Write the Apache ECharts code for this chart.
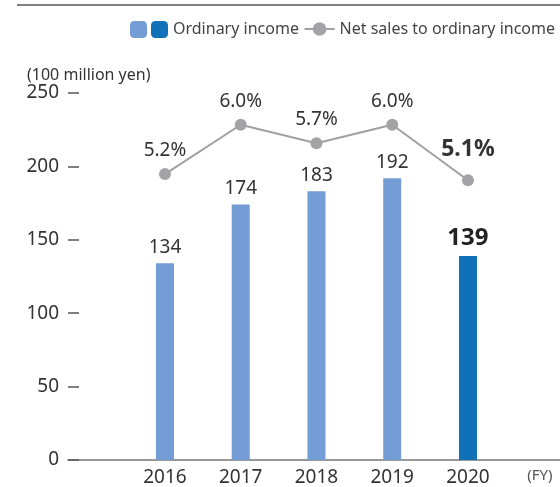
<!DOCTYPE html>
<html>
<head>
<meta charset="utf-8">
<script src="https://cdn.jsdelivr.net/npm/echarts@6/dist/echarts.min.js"></script>
<style>html,body{margin:0;padding:0;background:#fff}#c{width:560px;height:487px}</style>
</head>
<body>
<div id="c"></div>
<script>
const years = [2016, 2017, 2018, 2019, 2020];
const ordinaryIncome = [134, 174, 183, 192, 139];
const ratio = [5.2, 6.0, 5.7, 6.0, 5.1];
const yTicks = [0, 50, 100, 150, 200, 250];
const highlightIndex = 4;

const FONT = '"Noto Sans", sans-serif';
const lightData = years.map((y, i) => [y, i === highlightIndex ? null : ordinaryIncome[i]]);
const darkData = years.map((y, i) => [y, i === highlightIndex ? ordinaryIncome[i] : null]);
const ratioData = years.map((y, i) => ({
  value: [y, ratio[i]],
  label: i === highlightIndex ? {fontWeight: 'bold', fontSize: 23, distance: 13} : {}
}));

const chart = echarts.init(document.getElementById('c'), null, {renderer: 'canvas'});
chart.setOption({
  animation: false,
  textStyle: {fontFamily: FONT},
  grid: {left: 68, right: 0, top: 93, bottom: 24},
  title: {
    text: '(100 million yen)', left: 22, top: 62,
    textStyle: {fontSize: 16, fontWeight: 'normal', color: '#333', fontFamily: FONT}
  },
  graphic: [{
    type: 'line', shape: {x1: 17, y1: 5, x2: 560, y2: 5},
    style: {stroke: '#555', lineWidth: 1.5}
  }],
  legend: [
    {
      data: ['Ordinary income (2016-2019)'], left: 125, top: 16,
      itemWidth: 17, itemHeight: 17, formatter: () => '',
      selectedMode: false
    },
    {
      data: ['Ordinary income'], left: 146, top: 16,
      itemWidth: 17, itemHeight: 17, itemGap: 6,
      textStyle: {fontSize: 16, color: '#444', fontFamily: FONT},
      selectedMode: false
    },
    {
      data: ['Net sales to ordinary income'], right: 0, top: 16,
      itemWidth: 30, itemHeight: 17,
      textStyle: {fontSize: 16, color: '#444', fontFamily: FONT},
      selectedMode: false
    }
  ],
  xAxis: {
    type: 'value', min: 2014.72, max: 2021.215,
    splitLine: {show: false},
    axisLine: {show: true, lineStyle: {color: '#777', width: 1.5}},
    axisTick: {show: false},
    axisLabel: {
      customValues: years.concat([2020.95]),
      margin: 8, fontSize: 19, color: '#333',
      formatter: v => v > 2020.5 ? '{fy|(FY)}' : String(v),
      rich: {fy: {fontSize: 15, color: '#555', fontFamily: FONT}}
    }
  },
  yAxis: [
    {
      type: 'value', min: 0, max: 250, interval: 50,
      splitLine: {show: false},
      axisLine: {show: false},
      axisTick: {show: true, inside: true, length: 11, lineStyle: {color: '#555', width: 1.5}},
      axisLabel: {
        margin: 9, fontSize: 19, color: '#333',
        customValues: yTicks
      }
    },
    {
      type: 'value', min: 0.566, max: 6.515, show: false, splitLine: {show: false}
    }
  ],
  series: [
    {
      name: 'Ordinary income (2016-2019)', type: 'bar', data: lightData,
      barWidth: 18, barGap: '-100%',
      itemStyle: {color: '#739dd4'},
      label: {show: true, position: 'top', distance: 6, fontSize: 19, color: '#333'}
    },
    {
      name: 'Ordinary income', type: 'bar', data: darkData,
      barWidth: 18, barGap: '-100%',
      itemStyle: {color: '#1070b8'},
      label: {show: true, position: 'top', distance: 6, fontSize: 24, fontWeight: 'bold', color: '#222'}
    },
    {
      name: 'Net sales to ordinary income', type: 'line', yAxisIndex: 1, data: ratioData,
      symbol: 'circle', symbolSize: 12,
      lineStyle: {color: '#a0a0a0', width: 2},
      itemStyle: {color: '#a3a3a6'},
      label: {
        show: true, position: 'top', distance: 8, fontSize: 19, color: '#333',
        formatter: p => p.value[1].toFixed(1) + '%'
      }
    }
  ]
});
</script>
</body>
</html>
